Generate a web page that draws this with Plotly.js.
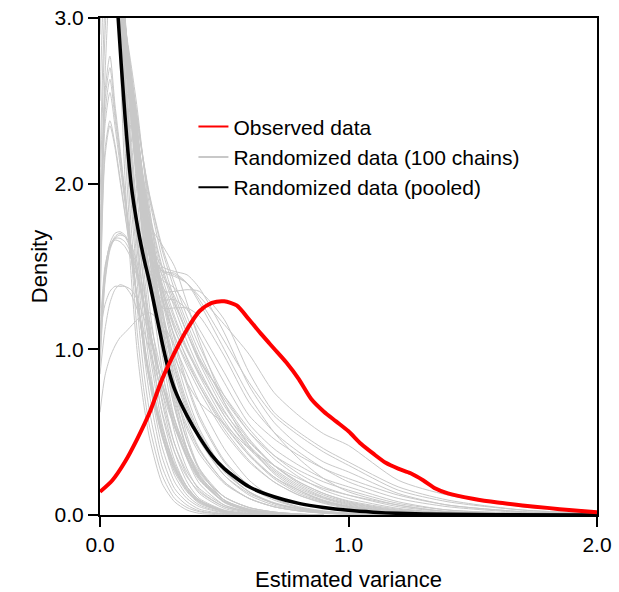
<!DOCTYPE html>
<html>
<head>
<meta charset="utf-8">
<script src="https://cdn.plot.ly/plotly-3.0.1.min.js"></script>
<style>html,body{margin:0;padding:0;background:#fff;}#chart{width:619px;height:592px;}</style>
</head>
<body>
<div id="chart"></div>
<script>
// Shared x grid for the 100-chain density curves (estimated variance)
const GX = [0, 0.02, 0.04, 0.06, 0.08, 0.1, 0.125, 0.15, 0.175, 0.2, 0.25, 0.3, 0.35, 0.4, 0.5, 0.6, 0.7, 0.8, 0.9, 1.0, 1.2, 1.4, 1.7, 2.0];

// Randomized data: individual chains (densities)
const a01 = [5.6,6.1,5.1,3.9,2.8,2.05,1.45,0.98,0.68,0.46,0.19,0.08,0.03,0.01,0];
const a02 = [5.0,5.5,4.9,3.9,3.0,2.25,1.6,1.1,0.77,0.53,0.24,0.1,0.045,0.02,0.004,0];
const a03 = [4.4,5.0,4.7,3.9,3.1,2.4,1.75,1.25,0.88,0.62,0.29,0.13,0.06,0.025,0.006,0];
const a04 = [3.8,4.5,4.5,3.85,3.15,2.5,1.9,1.4,1.0,0.72,0.35,0.16,0.08,0.035,0.008,0];
const a05 = [3.3,4.1,4.2,3.75,3.2,2.6,2.0,1.5,1.1,0.8,0.41,0.2,0.1,0.05,0.012,0];
const a06 = [2.9,3.7,4.0,3.7,3.25,2.7,2.1,1.6,1.2,0.9,0.48,0.24,0.12,0.06,0.015,0.004,0];
const a07 = [2.5,3.4,3.75,3.6,3.25,2.8,2.2,1.7,1.3,0.98,0.55,0.29,0.15,0.075,0.02,0.005,0];
const a08 = [2.1,3.1,3.55,3.55,3.3,2.88,2.3,1.8,1.4,1.07,0.61,0.33,0.17,0.09,0.025,0.007,0];
const a09 = [1.9,2.9,3.35,3.45,3.25,2.92,2.42,1.92,1.5,1.16,0.68,0.38,0.2,0.1,0.03,0.009,0];
const a10 = [1.7,2.65,3.2,3.35,3.2,2.93,2.48,2.02,1.6,1.25,0.75,0.43,0.24,0.13,0.04,0.012,0];
const a11 = [4.5,4.2,3.9,3.5,3.15,2.85,2.5,2.15,1.78,1.42,0.88,0.5,0.28,0.15,0.05,0.015,0.004,0];
const a12 = [4.2,4.0,3.75,3.45,3.2,2.92,2.6,2.25,1.9,1.55,0.97,0.58,0.34,0.19,0.06,0.02,0.006,0];
const a13 = [4.0,3.85,3.65,3.4,3.18,2.95,2.68,2.35,2.0,1.65,1.05,0.65,0.39,0.22,0.075,0.025,0.008,0];
const a14 = [3.9,3.75,3.55,3.35,3.15,2.96,2.72,2.45,2.12,1.78,1.16,0.73,0.45,0.27,0.09,0.03,0.01,0];
const a15 = [4.6,4.4,4.1,3.7,3.3,2.98,2.65,2.32,2.0,1.7,1.1,0.68,0.4,0.23,0.08,0.025,0.008,0];
const a16 = [3.8,3.7,3.5,3.3,3.1,2.9,2.66,2.4,2.12,1.85,1.27,0.8,0.48,0.28,0.09,0.03,0.01,0];
const a17 = [5.2,4.8,4.3,3.8,3.35,2.95,2.55,2.18,1.85,1.55,1.02,0.65,0.4,0.24,0.09,0.035,0.012,0.004,0];
const a18 = [4.0,3.9,3.7,3.45,3.2,2.95,2.62,2.28,1.95,1.63,1.08,0.7,0.45,0.28,0.11,0.045,0.018,0.006,0];
const a19 = [6.0,5.5,4.7,3.9,3.2,2.65,2.1,1.65,1.3,1.02,0.62,0.38,0.23,0.14,0.05,0.02,0.007,0];
const a20 = [5.8,5.6,4.8,3.95,3.25,2.7,2.2,1.78,1.42,1.12,0.7,0.43,0.26,0.16,0.06,0.022,0.008,0];
const b01 = [1.5,2.55,2.77,2.48,2.22,1.95,1.62,1.3,1.02,0.8,0.47,0.26,0.14,0.07,0.02,0.005,0];
const b02 = [1.45,2.5,2.7,2.44,2.19,1.93,1.61,1.3,1.03,0.81,0.48,0.27,0.15,0.08,0.02,0.005,0];
const b03 = [1.4,2.42,2.63,2.4,2.16,1.91,1.6,1.3,1.04,0.82,0.49,0.28,0.15,0.08,0.02,0.005,0];
const b04 = [1.35,2.35,2.55,2.35,2.12,1.89,1.59,1.3,1.05,0.83,0.5,0.29,0.16,0.085,0.025,0.006,0];
const b05 = [1.25,2.2,2.38,2.24,2.04,1.83,1.56,1.29,1.05,0.84,0.52,0.3,0.17,0.09,0.025,0.006,0];
const b06 = [1.2,2.16,2.35,2.22,2.02,1.82,1.56,1.3,1.06,0.85,0.53,0.31,0.17,0.09,0.025,0.006,0];
const c01 = [1.0,1.46,1.64,1.7,1.71,1.69,1.62,1.48,1.3,1.12,0.8,0.54,0.35,0.22,0.08,0.03,0.01,0];
const c02 = [0.95,1.42,1.61,1.68,1.7,1.68,1.6,1.46,1.29,1.11,0.79,0.54,0.35,0.22,0.08,0.03,0.01,0];
const c03 = [1.05,1.48,1.63,1.67,1.67,1.65,1.58,1.45,1.28,1.1,0.78,0.53,0.34,0.21,0.08,0.03,0.01,0];
const c04 = [0.9,1.4,1.6,1.67,1.69,1.68,1.63,1.52,1.36,1.18,0.85,0.58,0.38,0.24,0.09,0.03,0.01,0];
const c05 = [1.1,1.5,1.62,1.66,1.65,1.62,1.55,1.43,1.27,1.1,0.79,0.55,0.36,0.23,0.09,0.035,0.012,0];
const d01 = [1.1,1.27,1.35,1.38,1.38,1.38,1.36,1.3,1.2,1.07,0.8,0.57,0.39,0.26,0.11,0.045,0.018,0.006,0];
const d02 = [0.85,1.12,1.28,1.36,1.39,1.38,1.33,1.24,1.12,0.99,0.74,0.53,0.37,0.25,0.11,0.045,0.018,0.006,0];
const e01 = [0.62,0.84,0.95,1.02,1.07,1.1,1.14,1.18,1.21,1.22,1.16,1.02,0.85,0.68,0.4,0.21,0.1,0.045,0.02,0.008,0];
const f01 = [4.6,4.4,4.1,3.7,3.3,2.95,2.55,2.22,1.95,1.75,1.63,1.5,1.28,1.05,0.68,0.42,0.25,0.15,0.085,0.05,0.016,0.005,0];
const f02 = [4.2,4.0,3.8,3.5,3.2,2.9,2.5,2.15,1.85,1.63,1.47,1.46,1.4,1.28,1.0,0.72,0.5,0.34,0.22,0.14,0.06,0.02,0.005,0];
const f03 = [4.0,3.85,3.65,3.4,3.12,2.85,2.45,2.1,1.8,1.6,1.48,1.45,1.4,1.32,1.15,0.97,0.74,0.6,0.49,0.42,0.21,0.12,0.05,0.015];
const f04 = [4.3,4.1,3.85,3.55,3.22,2.9,2.5,2.12,1.82,1.62,1.47,1.44,1.4,1.3,1.05,0.8,0.6,0.48,0.38,0.3,0.15,0.08,0.03,0.01];
const f05 = [4.8,4.5,4.15,3.75,3.35,2.98,2.55,2.18,1.88,1.66,1.5,1.47,1.45,1.37,1.1,0.78,0.56,0.42,0.32,0.26,0.13,0.06,0.02,0.005];
const f06 = [3.9,3.75,3.55,3.3,3.05,2.8,2.4,2.02,1.7,1.48,1.35,1.35,1.36,1.35,1.18,0.86,0.62,0.5,0.4,0.32,0.17,0.09,0.03,0.01];
const f07 = [4.1,3.95,3.7,3.4,3.1,2.82,2.4,2.0,1.68,1.45,1.3,1.3,1.24,1.12,0.86,0.6,0.46,0.36,0.28,0.22,0.12,0.06,0.02,0.005];
const f08 = [4.5,4.25,3.95,3.6,3.25,2.92,2.5,2.12,1.8,1.57,1.42,1.37,1.25,1.08,0.8,0.55,0.4,0.3,0.22,0.17,0.08,0.03,0.01,0];
const f09 = [5.0,4.7,4.3,3.85,3.4,3.0,2.55,2.15,1.82,1.6,1.45,1.32,1.13,0.95,0.7,0.5,0.36,0.27,0.2,0.15,0.07,0.03,0.01,0];
const f10 = [4.4,4.2,3.9,3.55,3.2,2.88,2.45,2.07,1.76,1.55,1.38,1.27,1.1,0.93,0.72,0.52,0.36,0.25,0.17,0.12,0.05,0.02,0.005,0];
const f11 = [3.7,3.6,3.45,3.22,3.0,2.78,2.38,2.0,1.66,1.42,1.25,1.25,1.25,1.2,0.96,0.68,0.5,0.38,0.28,0.2,0.1,0.05,0.015,0];
const f12 = [5.2,4.9,4.45,3.95,3.45,3.0,2.5,2.05,1.68,1.42,1.15,0.95,0.8,0.68,0.55,0.4,0.3,0.22,0.16,0.12,0.06,0.02,0.005,0];
const g01 = [4.5,4.3,4.0,3.6,3.25,2.92,2.52,2.16,1.86,1.6,1.2,0.88,0.64,0.46,0.24,0.12,0.06,0.03,0.014,0.006,0];
const g02 = [4.8,4.5,4.1,3.7,3.3,2.95,2.52,2.14,1.82,1.55,1.12,0.8,0.57,0.4,0.2,0.1,0.05,0.025,0.01,0.004,0];
const g03 = [4.2,4.05,3.8,3.5,3.2,2.9,2.5,2.15,1.86,1.62,1.24,0.93,0.68,0.5,0.27,0.14,0.07,0.035,0.017,0.008,0];
const g04 = [5.0,4.7,4.25,3.8,3.35,2.97,2.5,2.1,1.76,1.48,1.05,0.75,0.54,0.39,0.2,0.1,0.05,0.025,0.012,0.005,0];
const g05 = [4.0,3.85,3.65,3.4,3.12,2.86,2.5,2.18,1.9,1.68,1.3,0.98,0.72,0.52,0.27,0.14,0.07,0.035,0.017,0.008,0];
const g06 = [4.6,4.35,4.0,3.62,3.26,2.93,2.52,2.15,1.83,1.57,1.16,0.85,0.62,0.45,0.24,0.13,0.07,0.04,0.02,0.01,0.003,0];
const g07 = [3.8,3.7,3.5,3.28,3.05,2.82,2.5,2.2,1.93,1.7,1.32,1.02,0.78,0.58,0.32,0.17,0.09,0.045,0.022,0.01,0.003,0];
const g08 = [5.4,5.0,4.45,3.9,3.4,2.98,2.48,2.06,1.72,1.45,1.02,0.73,0.52,0.37,0.19,0.1,0.05,0.025,0.012,0.005,0];
const g09 = [4.3,4.15,3.9,3.58,3.24,2.92,2.53,2.18,1.88,1.63,1.22,0.9,0.66,0.48,0.26,0.14,0.075,0.04,0.02,0.01,0.003,0];
const g10 = [3.6,3.5,3.35,3.15,2.97,2.78,2.48,2.2,1.95,1.73,1.36,1.06,0.8,0.6,0.33,0.18,0.1,0.05,0.025,0.012,0.004,0];
const h01 = [4.4,4.2,3.9,3.55,3.25,2.97,2.62,2.3,2.02,1.8,1.48,1.25,1.05,0.88,0.6,0.4,0.26,0.16,0.1,0.06,0.02,0.006,0];
const h02 = [4.0,3.85,3.65,3.4,3.15,2.92,2.6,2.3,2.04,1.82,1.5,1.28,1.1,0.94,0.66,0.45,0.3,0.2,0.13,0.08,0.03,0.01,0];
const h03 = [4.7,4.45,4.1,3.7,3.33,3.0,2.62,2.28,1.98,1.74,1.4,1.18,1.0,0.84,0.57,0.37,0.23,0.14,0.085,0.05,0.017,0.005,0];
const h04 = [3.9,3.78,3.6,3.38,3.16,2.95,2.68,2.4,2.14,1.9,1.55,1.3,1.1,0.92,0.63,0.42,0.28,0.18,0.11,0.07,0.025,0.008,0];
const h05 = [4.2,4.0,3.78,3.5,3.22,2.96,2.62,2.3,2.0,1.75,1.38,1.13,0.94,0.78,0.52,0.33,0.2,0.12,0.07,0.04,0.013,0.004,0];
const h06 = [4.5,4.3,3.98,3.6,3.27,2.96,2.6,2.27,1.97,1.72,1.37,1.15,0.99,0.85,0.62,0.44,0.3,0.2,0.13,0.085,0.035,0.012,0.003,0];
const h07 = [3.7,3.6,3.45,3.26,3.06,2.88,2.62,2.37,2.13,1.92,1.6,1.36,1.16,0.98,0.68,0.46,0.3,0.19,0.12,0.075,0.026,0.008,0];
const h08 = [4.9,4.6,4.2,3.78,3.38,3.02,2.6,2.22,1.9,1.64,1.3,1.08,0.92,0.78,0.54,0.36,0.23,0.15,0.09,0.055,0.02,0.006,0];
const h09 = [4.1,3.95,3.72,3.45,3.18,2.93,2.6,2.29,2.01,1.78,1.44,1.2,1.01,0.86,0.6,0.41,0.27,0.17,0.105,0.065,0.022,0.007,0];
const h10 = [4.3,4.1,3.84,3.52,3.22,2.94,2.58,2.24,1.94,1.68,1.32,1.08,0.9,0.75,0.5,0.32,0.2,0.12,0.075,0.045,0.015,0.005,0];
const h11 = [3.8,3.7,3.52,3.32,3.1,2.9,2.64,2.38,2.14,1.93,1.62,1.4,1.2,1.02,0.72,0.5,0.34,0.23,0.15,0.1,0.04,0.014,0.003,0];
const h12 = [4.6,4.4,4.05,3.65,3.3,2.98,2.6,2.26,1.96,1.71,1.35,1.12,0.95,0.8,0.55,0.36,0.22,0.13,0.08,0.05,0.017,0.005,0];

const chains = [a01,a02,a03,a04,a05,a06,a07,a08,a09,a10,a11,a12,a13,a14,a15,a16,a17,a18,a19,a20,
  b01,b02,b03,b04,b05,b06,c01,c02,c03,c04,c05,d01,d02,e01,
  f01,f02,f03,f04,f05,f06,f07,f08,f09,f10,f11,f12,
  g01,g02,g03,g04,g05,g06,g07,g08,g09,g10,
  h01,h02,h03,h04,h05,h06,h07,h08,h09,h10,h11,h12];

// Randomized data (pooled)
const pooledX = [0,0.03,0.05,0.073,0.1,0.125,0.15,0.175,0.2,0.225,0.25,0.275,0.3,0.35,0.4,0.45,0.5,0.6,0.7,0.8,0.9,1.0,1.1,1.2,1.4,1.6,2.0];
const pooledY = [6.5,4.6,3.7,3.0,2.42,2.0,1.75,1.56,1.4,1.22,1.04,0.88,0.76,0.6,0.47,0.36,0.28,0.17,0.11,0.07,0.045,0.028,0.017,0.01,0.004,0.002,0];

// Observed data
const obsX = [0,0.05,0.1,0.15,0.2,0.25,0.3,0.35,0.4,0.45,0.5,0.55,0.6,0.65,0.7,0.75,0.8,0.85,0.9,0.95,1.0,1.05,1.1,1.15,1.2,1.25,1.3,1.35,1.4,1.5,1.6,1.7,1.8,1.9,2.0];
const obsY = [0.14,0.21,0.32,0.46,0.62,0.82,0.98,1.12,1.23,1.28,1.29,1.265,1.18,1.09,1.005,0.92,0.82,0.7,0.625,0.565,0.505,0.43,0.37,0.315,0.28,0.252,0.21,0.16,0.13,0.098,0.075,0.058,0.043,0.028,0.016];

const names = ['Observed data', 'Randomized data (100 chains)', 'Randomized data (pooled)'];
const legendColors = ['#ff0000', '#c8c8c8', '#000000'];
const FONT = 'Liberation Sans, Arial, Helvetica, sans-serif';

const traces = [];
chains.forEach((ys) => {
  traces.push({
    x: GX.slice(0, ys.length), y: ys, type: 'scatter', mode: 'lines',
    line: {color: '#c8c8c8', width: 1, shape: 'spline', smoothing: 0.7},
    name: names[1], showlegend: false, hoverinfo: 'skip'
  });
});
traces.push({
  x: pooledX, y: pooledY, type: 'scatter', mode: 'lines',
  line: {color: '#000000', width: 3.5, shape: 'spline', smoothing: 0.7},
  name: names[2], showlegend: false
});
traces.push({
  x: obsX, y: obsY, type: 'scatter', mode: 'lines',
  line: {color: '#ff0000', width: 4, shape: 'spline', smoothing: 0.7},
  name: names[0], showlegend: false
});
// legend entries (thin keys like the original legend)
names.forEach((nm, i) => {
  traces.push({x: [null], y: [null], type: 'scatter', mode: 'lines',
    line: {color: legendColors[i], width: 2}, name: nm, showlegend: true, legendrank: i + 1});
});

const axisCommon = {
  showline: true, linewidth: 2, linecolor: '#000', mirror: true,
  ticks: 'outside', ticklen: 10, tickwidth: 2, tickcolor: '#000',
  showgrid: false, zeroline: false, dtick: 1, tick0: 0, tickformat: '.1f',
  tickfont: {family: FONT, size: 21, color: '#000'}
};

const layout = {
  width: 619, height: 592,
  margin: {l: 100, r: 22, t: 18, b: 77},
  paper_bgcolor: '#fff', plot_bgcolor: '#fff',
  font: {family: FONT, size: 21, color: '#000'},
  showlegend: true,
  legend: {x: 0.188, y: 0.822, xanchor: 'left', yanchor: 'top', bgcolor: 'rgba(0,0,0,0)',
           font: {family: FONT, size: 21, color: '#000'}, tracegroupgap: 0},
  xaxis: Object.assign({}, axisCommon, {range: [0, 2],
    title: {text: 'Estimated variance', font: {family: FONT, size: 22, color: '#000'}, standoff: 18}}),
  yaxis: Object.assign({}, axisCommon, {range: [0, 3],
    title: {text: 'Density', font: {family: FONT, size: 22, color: '#000'}, standoff: 1}})
};

Plotly.newPlot('chart', traces, layout, {displayModeBar: false, staticPlot: true});
</script>
</body>
</html>
